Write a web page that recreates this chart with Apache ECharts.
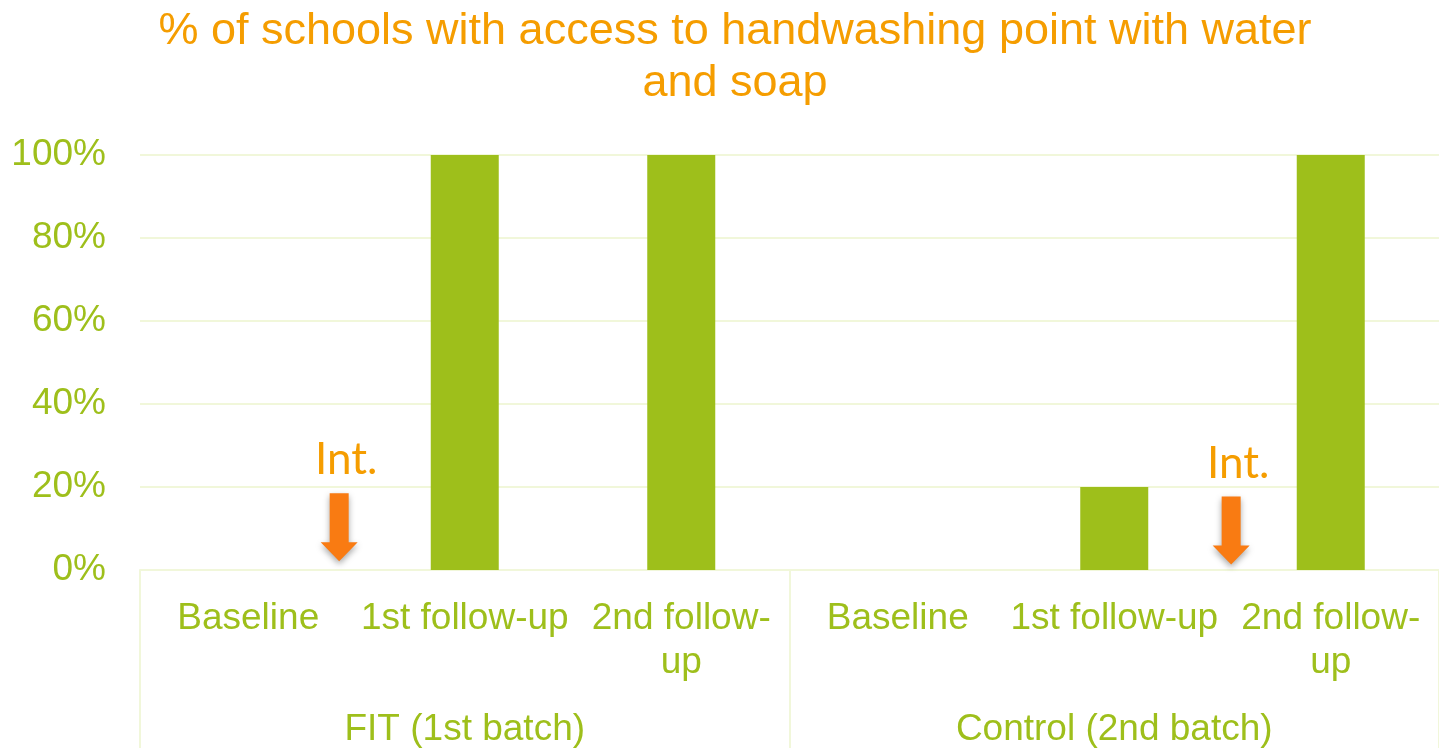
<!DOCTYPE html>
<html>
<head>
<meta charset="utf-8">
<script src="https://cdn.jsdelivr.net/npm/echarts@6/dist/echarts.min.js"></script>
<style>
  html, body { margin: 0; padding: 0; background: #fff; }
  #main { width: 1439px; height: 748px; }
</style>
</head>
<body>
<div id="main"></div>
<script>
// categories (first level) and groups (second level)
var categories = ['Baseline', '1st follow-up', '2nd follow-\nup', 'Baseline', '1st follow-up', '2nd follow-\nup']
var groups = ['FIT (1st batch)', 'Control (2nd batch)']
// % of schools, one value per category
var values = [0, 100, 100, 0, 20, 100]
// y axis ticks
var yMin = 0
var yMax = 100
var yStep = 20
// intervention marks: position along the 6 categories and height in %
var intX = [0.92, 5.04]
var intY = [10.3, 9.5]

var green = '#9EBF1B'
var orange = '#F59D00'
var gridColor = '#F1F7DA'

var chart = echarts.init(document.getElementById('main'))

var option = {
  animation: false,
  title: {
    text: '% of schools with access to handwashing point with water\nand soap',
    left: 735,
    top: 6,
    padding: 0,
    textAlign: 'center',
    textStyle: {
      fontFamily: 'Liberation Sans',
      fontSize: 45,
      fontWeight: 'normal',
      color: orange,
      lineHeight: 52
    }
  },
  grid: {
    left: 140,
    right: 0,
    top: 155,
    bottom: 177
  },
  xAxis: [
    {
      type: 'category',
      data: categories,
      position: 'bottom',
      axisLine: { show: true, lineStyle: { color: gridColor, width: 2 } },
      axisTick: { show: false },
      axisLabel: {
        interval: 0,
        margin: 27,
        color: green,
        fontFamily: 'Liberation Sans',
        fontSize: 37,
        lineHeight: 44
      }
    },
    {
      type: 'category',
      data: groups,
      position: 'bottom',
      axisLine: { show: false },
      axisTick: { show: true, length: 180, lineStyle: { color: gridColor, width: 2 } },
      axisLabel: {
        interval: 0,
        margin: 141,
        color: green,
        fontFamily: 'Liberation Sans',
        fontSize: 37
      },
      splitLine: { show: false }
    },
    {
      type: 'value',
      min: 0,
      max: categories.length,
      show: false
    }
  ],
  yAxis: {
    type: 'value',
    min: yMin,
    max: yMax,
    interval: yStep,
    axisLine: { show: false },
    axisTick: { show: false },
    axisLabel: {
      formatter: '{value}%',
      margin: 34,
      padding: [7, 0, 0, 0],
      color: green,
      fontFamily: 'Liberation Sans',
      fontSize: 37
    },
    splitLine: { lineStyle: { color: gridColor, width: 2 } }
  },
  series: [
    {
      type: 'bar',
      xAxisIndex: 0,
      data: values,
      barWidth: 68,
      itemStyle: { color: green }
    },
    {
      type: 'scatter',
      xAxisIndex: 2,
      data: intX.map(function (x, i) { return [x, intY[i]] }),
      symbol: 'path://M9,0 L28,0 L28,49 L37,49 L18.5,68 L0,49 L9,49 Z',
      symbolSize: [37, 68],
      itemStyle: {
        color: '#F97B12',
        opacity: 1,
        shadowBlur: 6,
        shadowColor: 'rgba(0,0,0,0.35)',
        shadowOffsetY: 3
      },
      label: {
        show: true,
        formatter: 'Int.',
        position: 'top',
        distance: 11,
        offset: [7, 0],
        color: orange,
        fontFamily: 'Lato',
        fontSize: 44,
        lineHeight: 44
      },
      z: 5
    }
  ]
}

chart.setOption(option)
</script>
</body>
</html>
